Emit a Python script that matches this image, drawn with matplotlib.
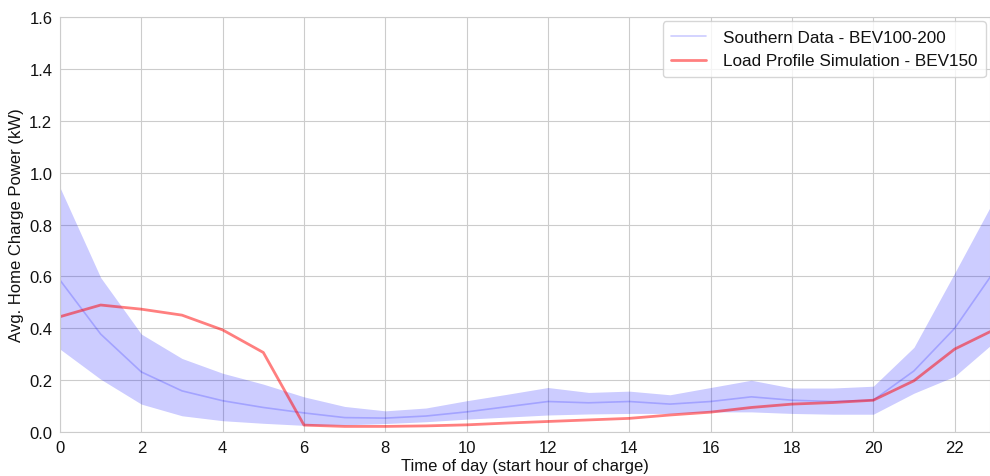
import matplotlib
matplotlib.use("Agg")
import matplotlib.pyplot as plt
import seaborn as sns

hours = list(range(24))
southern_mean = [0.586, 0.378, 0.232, 0.159, 0.121, 0.095, 0.074, 0.056, 0.054, 0.062,
                 0.078, 0.098, 0.118, 0.113, 0.118, 0.108, 0.118, 0.136, 0.123, 0.118,
                 0.123, 0.236, 0.400, 0.626]
southern_upper = [0.943, 0.596, 0.378, 0.284, 0.227, 0.185, 0.136, 0.099, 0.082, 0.093,
                  0.121, 0.146, 0.172, 0.153, 0.158, 0.144, 0.172, 0.200, 0.170, 0.170,
                  0.177, 0.327, 0.613, 0.904]
southern_lower = [0.320, 0.204, 0.108, 0.063, 0.044, 0.034, 0.026, 0.028, 0.033, 0.040,
                  0.050, 0.058, 0.066, 0.070, 0.072, 0.072, 0.078, 0.078, 0.072, 0.069,
                  0.069, 0.150, 0.215, 0.350]
simulation = [0.445, 0.490, 0.474, 0.451, 0.394, 0.307, 0.027, 0.022, 0.022, 0.024,
              0.028, 0.035, 0.041, 0.047, 0.053, 0.066, 0.077, 0.095, 0.108, 0.114,
              0.123, 0.198, 0.320, 0.397]


def main():
    sns.set_style("whitegrid")
    plt.rcParams["font.family"] = ["Liberation Sans", "DejaVu Sans"]
    plt.rcParams["text.color"] = "#111111"
    plt.rcParams["xtick.color"] = "#111111"
    plt.rcParams["ytick.color"] = "#111111"
    plt.rcParams["axes.labelcolor"] = "#111111"

    fig = plt.figure(figsize=(9.9, 4.77), dpi=100)
    ax = fig.add_axes([0.0606, 0.092, 0.9394, 0.870])

    ax.fill_between(hours, southern_lower, southern_upper, color="blue", alpha=0.2, linewidth=0)
    ax.plot(hours, southern_mean, color="blue", alpha=0.2, linewidth=1.2,
            label="Southern Data - BEV100-200")
    ax.plot(hours, simulation, color="red", alpha=0.5, linewidth=2,
            label="Load Profile Simulation - BEV150")

    ax.set_xlim(0, 22.87)
    ax.set_ylim(0, 1.6)
    ax.set_xticks(range(0, 23, 2))
    ax.set_yticks([0.0, 0.2, 0.4, 0.6, 0.8, 1.0, 1.2, 1.4, 1.6])
    ax.tick_params(labelsize=12, pad=2)
    ax.set_xlabel("Time of day (start hour of charge)", fontsize=12, labelpad=2)
    ax.set_ylabel("Avg. Home Charge Power (kW)", fontsize=12, labelpad=4)
    ax.legend(loc="upper right", fontsize=12.3, handlelength=2.0, handletextpad=1.0,
              borderpad=0.5, borderaxespad=0.25)

    fig.savefig("out.png", dpi=100)


if __name__ == "__main__":
    main()
